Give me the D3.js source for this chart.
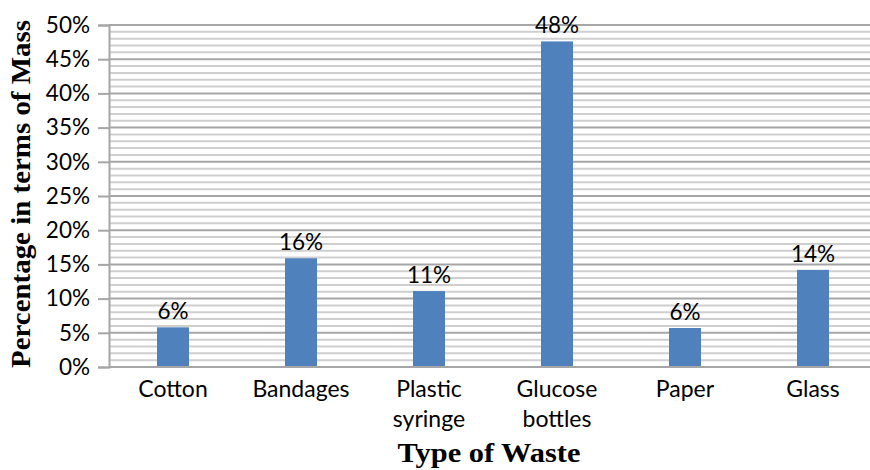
<!DOCTYPE html>
<html>
<head>
<meta charset="utf-8">
<script src="https://cdn.jsdelivr.net/npm/d3@7"></script>
<style>
  html, body { margin: 0; padding: 0; background: #fff; }
  svg { display: block; }
</style>
</head>
<body>
<svg id="chart" width="870" height="470"></svg>
<script>
// Composition of waste by mass
const categories = ["Cotton", "Bandages", "Plastic syringe", "Glucose bottles", "Paper", "Glass"];
const shares = [5.8, 15.9, 11.1, 47.6, 5.7, 14.2]; // percent of total mass
const yTicks = [0, 5, 10, 15, 20, 25, 30, 35, 40, 45, 50];

const svg = d3.select("#chart");
const W = 870, H = 470;
const m = { left: 109, right: -7, top: 25, bottom: 103 };
const plotR = W - m.right, plotB = H - m.bottom;

const x = d3.scaleBand().domain(categories).range([m.left, plotR]).paddingInner(0).paddingOuter(0);
const y = d3.scaleLinear().domain([0, 50]).range([plotB, m.top]);

const font = "Lato, 'Open Sans', sans-serif";
const serif = "'Liberation Serif', 'Times New Roman', serif";

// minor gridlines every 1%
svg.append("g").selectAll("line")
  .data(d3.range(1, 50).filter(v => v % 5 !== 0))
  .join("line")
  .attr("x1", m.left).attr("x2", plotR)
  .attr("y1", d => y(d)).attr("y2", d => y(d))
  .attr("stroke", "#cfcfcf").attr("stroke-width", 2);

// major gridlines every 5%
svg.append("g").selectAll("line")
  .data(yTicks.slice(1))
  .join("line")
  .attr("x1", m.left).attr("x2", plotR)
  .attr("y1", d => y(d)).attr("y2", d => y(d))
  .attr("stroke", "#a6a6a6").attr("stroke-width", 2);

// y axis
const yAxis = svg.append("g")
  .attr("transform", `translate(${m.left},0)`)
  .call(d3.axisLeft(y).tickValues(yTicks).tickFormat(d => d + "%").tickSize(11).tickPadding(8));
yAxis.select(".domain").attr("stroke", "#a6a6a6").attr("stroke-width", 2);
yAxis.selectAll(".tick line").attr("stroke", "#a6a6a6").attr("stroke-width", 2);
yAxis.selectAll(".tick text")
  .attr("font-family", font).attr("font-size", 22.5).attr("fill", "#000");

// bars
svg.append("g").selectAll("rect")
  .data(categories)
  .join("rect")
  .attr("x", d => x(d) + x.bandwidth() * 0.375)
  .attr("width", x.bandwidth() * 0.25)
  .attr("y", (d, i) => y(shares[i]))
  .attr("height", (d, i) => plotB - y(shares[i]))
  .attr("fill", "#4f81bd");

// x baseline
svg.append("line")
  .attr("x1", m.left).attr("x2", plotR)
  .attr("y1", plotB).attr("y2", plotB)
  .attr("stroke", "#a6a6a6").attr("stroke-width", 2);

// value labels
const pct = d3.format(".0f");
svg.append("g").selectAll("text")
  .data(categories)
  .join("text")
  .attr("x", d => x(d) + x.bandwidth() / 2)
  .attr("y", (d, i) => y(shares[i]) - 8)
  .attr("text-anchor", "middle")
  .attr("font-family", font).attr("font-size", 22.5).attr("fill", "#000")
  .text((d, i) => pct(shares[i]) + "%");

// category labels (wrapped on spaces)
const catG = svg.append("g").selectAll("text")
  .data(categories)
  .join("text")
  .attr("x", d => x(d) + x.bandwidth() / 2)
  .attr("y", 397)
  .attr("text-anchor", "middle")
  .attr("font-family", font).attr("font-size", 23).attr("fill", "#000");
catG.each(function(d) {
  const words = d.split(" ");
  d3.select(this).selectAll("tspan")
    .data(words)
    .join("tspan")
    .attr("x", x(d) + x.bandwidth() / 2)
    .attr("dy", (w, i) => i === 0 ? 0 : 30)
    .text(w => w);
});

// axis titles
svg.append("text")
  .attr("x", 489).attr("y", 462)
  .attr("text-anchor", "middle")
  .attr("font-family", serif)
  .attr("font-weight", "bold").attr("font-size", 27)
  .attr("textLength", 183).attr("lengthAdjust", "spacingAndGlyphs")
  .text("Type of Waste");

svg.append("text")
  .attr("transform", `translate(30, 194) rotate(-90)`)
  .attr("text-anchor", "middle")
  .attr("font-family", serif)
  .attr("font-weight", "bold").attr("font-size", 27)
  .attr("textLength", 348).attr("lengthAdjust", "spacingAndGlyphs")
  .text("Percentage  in terms of Mass");
</script>
</body>
</html>
